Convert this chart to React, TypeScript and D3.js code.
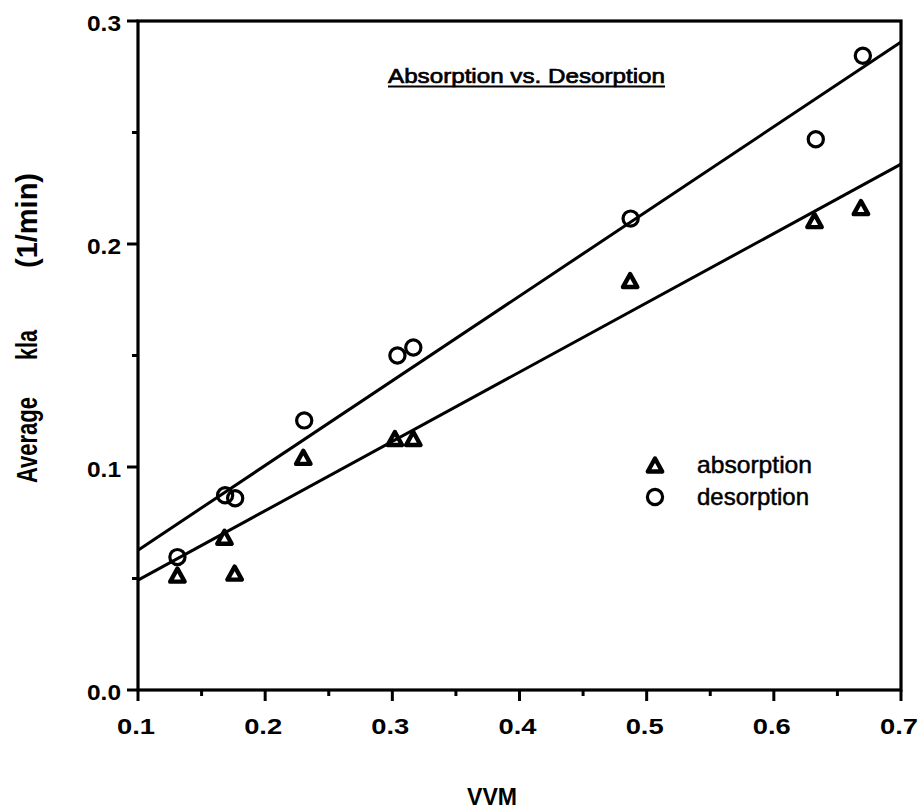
import React from "react";
import * as d3 from "d3";

// Aeration rate (VVM) vs. average kLa (1/min)
const absorptionVvm = [0.131, 0.168, 0.176, 0.23, 0.302, 0.3165, 0.487, 0.632, 0.6685];
const absorptionKla = [0.0515, 0.0685, 0.0524, 0.1043, 0.1128, 0.1128, 0.1836, 0.2105, 0.2163];
const desorptionVvm = [0.131, 0.1685, 0.1764, 0.2307, 0.304, 0.3165, 0.4874, 0.633, 0.67];
const desorptionKla = [0.0596, 0.0873, 0.086, 0.1209, 0.15, 0.1536, 0.2114, 0.247, 0.2844];

// Least-squares fit lines, evaluated at the ends of the axis
const fitVvm = [0.1, 0.7];
const absorptionFit = [0.0493, 0.2358];
const desorptionFit = [0.0627, 0.2906];

const xMajorTicks = [0.1, 0.2, 0.3, 0.4, 0.5, 0.6, 0.7];
const xMinorTicks = [0.15, 0.25, 0.35, 0.45, 0.55, 0.65];
const yMajorTicks = [0.0, 0.1, 0.2, 0.3];
const yMinorTicks = [0.05, 0.15, 0.25];

const FONT = "'Liberation Sans', Arial, Helvetica, sans-serif";

const x = d3.scaleLinear().domain([0.1, 0.7]).range([138, 901]);
const y = d3.scaleLinear().domain([0, 0.3]).range([690, 21]);

const line = d3
  .line<[number, number]>()
  .x((d) => x(d[0]))
  .y((d) => y(d[1]));

function Triangle({ cx, cy }: { cx: number; cy: number }) {
  const w = 7.2;
  const h = 13;
  const d = `M${cx},${cy - h / 2} L${cx + w},${cy + h / 2} L${cx - w},${cy + h / 2} Z`;
  return <path d={d} fill="none" stroke="#000" strokeWidth={4.4} strokeLinejoin="round" />;
}

function Circle({ cx, cy }: { cx: number; cy: number }) {
  return <circle cx={cx} cy={cy} r={7.6} fill="none" stroke="#000" strokeWidth={3.2} />;
}

export default function App() {
  const fmt = d3.format(".1f");
  return (
    <svg
      width={924}
      height={812}
      style={{ position: "absolute", left: 0, top: 0, background: "#fff" }}
      fontFamily={FONT}
    >
      <rect x={0} y={0} width={924} height={812} fill="#fff" />

      {/* frame */}
      <rect x={x(0.1)} y={y(0.3)} width={x(0.7) - x(0.1)} height={y(0) - y(0.3)} fill="none" stroke="#000" strokeWidth={3.2} />

      {/* x ticks */}
      {xMajorTicks.map((t) => (
        <line key={"xM" + t} x1={x(t)} x2={x(t)} y1={y(0)} y2={y(0) + 11} stroke="#000" strokeWidth={3} />
      ))}
      {xMinorTicks.map((t) => (
        <line key={"xm" + t} x1={x(t)} x2={x(t)} y1={y(0)} y2={y(0) + 6} stroke="#000" strokeWidth={3} />
      ))}
      {xMajorTicks.map((t) => (
        <text
          key={"xl" + t}
          x={x(t) - 2}
          y={734}
          textAnchor="middle"
          fontSize={22}
          fontWeight="bold"
          textLength={38}
          lengthAdjust="spacingAndGlyphs"
        >
          {fmt(t)}
        </text>
      ))}

      {/* y ticks */}
      {yMajorTicks.map((t) => (
        <line key={"yM" + t} x1={x(0.1) - 11} x2={x(0.1)} y1={y(t)} y2={y(t)} stroke="#000" strokeWidth={3} />
      ))}
      {yMinorTicks.map((t) => (
        <line key={"ym" + t} x1={x(0.1) - 6} x2={x(0.1)} y1={y(t)} y2={y(t)} stroke="#000" strokeWidth={3} />
      ))}
      {yMajorTicks.map((t) => (
        <text
          key={"yl" + t}
          x={121}
          y={y(t) + 10}
          textAnchor="end"
          fontSize={22}
          fontWeight="bold"
          textLength={34}
          lengthAdjust="spacingAndGlyphs"
        >
          {fmt(t)}
        </text>
      ))}

      {/* fit lines */}
      <path
        d={line(fitVvm.map((v, i) => [v, absorptionFit[i]]) as [number, number][]) || ""}
        fill="none"
        stroke="#000"
        strokeWidth={3}
      />
      <path
        d={line(fitVvm.map((v, i) => [v, desorptionFit[i]]) as [number, number][]) || ""}
        fill="none"
        stroke="#000"
        strokeWidth={3}
      />

      {/* data */}
      {absorptionVvm.map((v, i) => (
        <Triangle key={"a" + i} cx={x(v)} cy={y(absorptionKla[i])} />
      ))}
      {desorptionVvm.map((v, i) => (
        <Circle key={"d" + i} cx={x(v)} cy={y(desorptionKla[i])} />
      ))}

      {/* title */}
      <text
        x={388}
        y={83}
        fontSize={21}
        stroke="#000"
        strokeWidth={0.7}
        textLength={277}
        lengthAdjust="spacingAndGlyphs"
      >
        Absorption vs. Desorption
      </text>
      <line x1={388} x2={665} y1={86.5} y2={86.5} stroke="#000" strokeWidth={2.2} />

      {/* legend */}
      <Triangle cx={655} cy={465} />
      <text x={697} y={473} fontSize={24} stroke="#000" strokeWidth={0.5} textLength={115} lengthAdjust="spacingAndGlyphs">
        absorption
      </text>
      <Circle cx={655} cy={497} />
      <text x={697} y={505} fontSize={24} stroke="#000" strokeWidth={0.5} textLength={112} lengthAdjust="spacingAndGlyphs">
        desorption
      </text>

      {/* axis titles */}
      <text x={467} y={805} fontSize={23} fontWeight="bold" textLength={50} lengthAdjust="spacingAndGlyphs">
        VVM
      </text>
      <g transform="translate(37,0)">
        <text
          transform="translate(0,483) rotate(-90) scale(1,1.3)"
          fontSize={22}
          fontWeight="bold"
          textLength={86}
          lengthAdjust="spacingAndGlyphs"
        >
          Average
        </text>
        <text
          transform="translate(0,360) rotate(-90) scale(1,1.3)"
          fontSize={22}
          fontWeight="bold"
          textLength={30}
          lengthAdjust="spacingAndGlyphs"
        >
          kla
        </text>
        <text
          transform="translate(0,268) rotate(-90) scale(1,1.3)"
          fontSize={22}
          fontWeight="bold"
          textLength={95}
          lengthAdjust="spacingAndGlyphs"
        >
          (1/min)
        </text>
      </g>
    </svg>
  );
}
